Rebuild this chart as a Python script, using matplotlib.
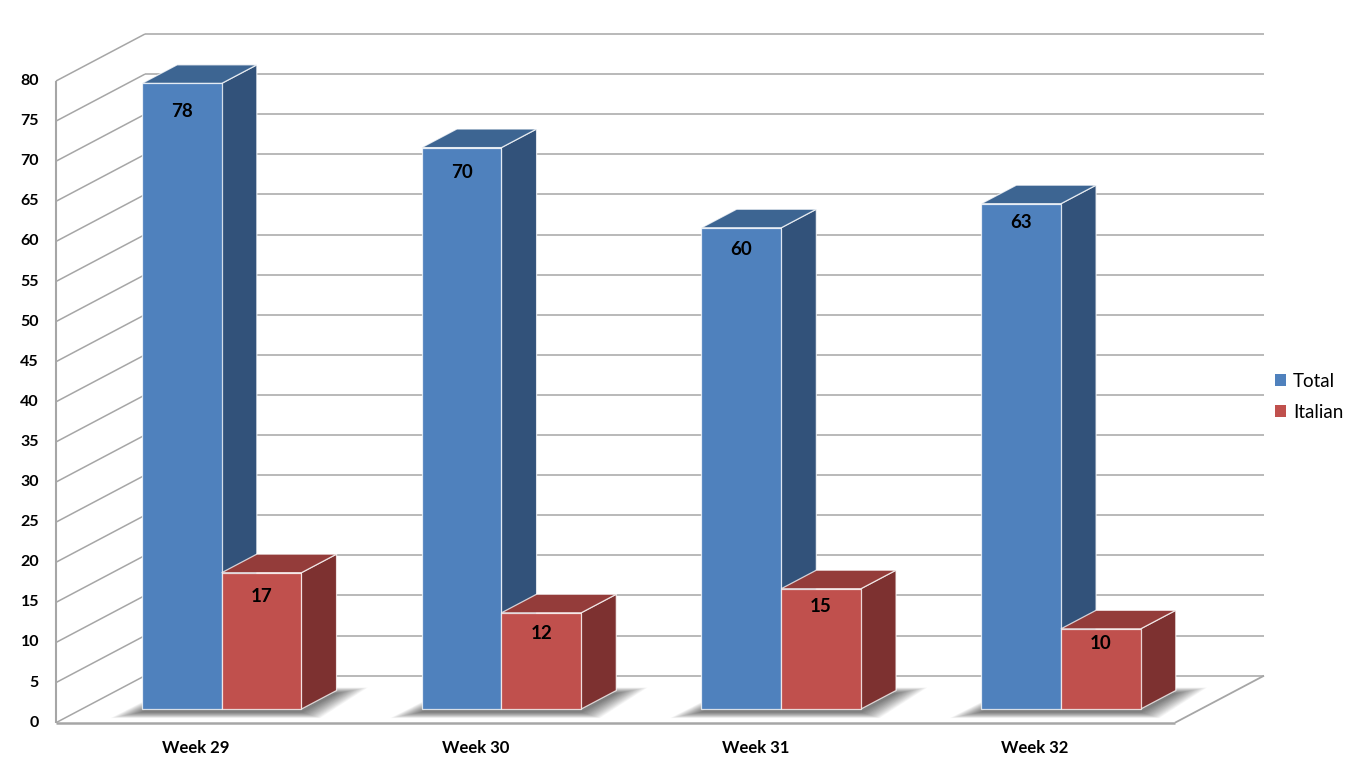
import matplotlib
matplotlib.use("Agg")
import matplotlib.pyplot as plt
from matplotlib.patches import Polygon, Patch
from matplotlib.lines import Line2D
import matplotlib.transforms as mtransforms

plt.rcParams['font.family'] = ['Lato', 'DejaVu Sans']

# ---------------- data ----------------
categories = ["Week 29", "Week 30", "Week 31", "Week 32"]
series_names = ["Total", "Italian"]
total_values = [78, 70, 60, 63]
italian_values = [17, 12, 15, 10]
y_ticks = list(range(0, 81, 5))

# ---------------- style ----------------
W_PX, H_PX, DPI = 1368, 763, 100
front_colors = {"Total": "#4F81BD", "Italian": "#C0504D"}
top_colors = {"Total": "#3D6592", "Italian": "#943C3A"}
side_colors = {"Total": "#32527A", "Italian": "#7D3130"}
grid_color = "#A6A6A6"

fig = plt.figure(figsize=(W_PX / DPI, H_PX / DPI), dpi=DPI)
ax_left, ax_right, ax_top, ax_bot = 56, 1175, 81, 722.7
ax = fig.add_axes([ax_left / W_PX, (H_PX - ax_bot) / H_PX,
                   (ax_right - ax_left) / W_PX, (ax_bot - ax_top) / H_PX])
ax.set_xlim(0, len(categories))
ax.set_ylim(0, 80)
ax.axis('off')

px_per_x = (ax_right - ax_left) / len(categories)
px_per_y = (ax_bot - ax_top) / 80.0
DEPTH_X = 89 / px_per_x     # full floor depth in x data units
DEPTH_Y = 47 / px_per_y     # full floor depth in y data units


def proj(x, y, f):
    """oblique projection: point (x, y) at depth fraction f"""
    return (x + f * DEPTH_X, y + f * DEPTH_Y)


def line(p, q, lw=1.1, color=grid_color, z=1):
    ax.add_line(Line2D([p[0], q[0]], [p[1], q[1]], lw=lw, color=color,
                       zorder=z, clip_on=False, solid_capstyle='butt'))


n = len(categories)
# back-wall gridlines and left-wall lines
for v in y_ticks:
    line(proj(0, v, 1), proj(n, v, 1))
    line(proj(0, v, 0), proj(0, v, 1))
# front axis line and floor edges
line(proj(0, 0, 0), proj(0, 80, 0), lw=1.5)
line(proj(0, 0, 0), proj(n, 0, 0), lw=1.8)
line(proj(n, 0, 0), proj(n, 0, 1), lw=1.3)

# tick labels
tick_tr = mtransforms.offset_copy(ax.transData, fig=fig, x=-17, y=0, units='dots')
for v in y_ticks:
    ax.text(0, v, str(v), transform=tick_tr, ha='right', va='center',
            fontsize=11.5, fontweight='bold', color='black', clip_on=False)

# category labels
cat_tr = mtransforms.offset_copy(ax.transData, fig=fig, x=0, y=-25, units='dots')
for i, c in enumerate(categories):
    ax.text(i + 0.5, 0, c, transform=cat_tr, ha='center', va='center',
            fontsize=12, fontweight='bold', color='black', clip_on=False)

# bars
BAR_W = 79.7 / px_per_x
F0, F1 = 0.29, 0.685
values = {"Total": total_values, "Italian": italian_values}

# soft shadows under the bar pairs
for i in range(n):
    xl = i + 0.5 - BAR_W
    xr = i + 0.5 + BAR_W
    for k in range(20):
        ex = (1 + 1.6 * k) / px_per_x
        ey = (0.3 + 0.3 * k) / px_per_y
        dy = -3 / px_per_y
        pts = [proj(xl - ex, dy - ey, F0),
               proj(xr + ex * 0.6, dy - ey, F0),
               proj(xr + ex, dy + ey, F1),
               proj(xl - ex * 0.2, dy + ey, F1)]
        ax.add_patch(Polygon(pts, closed=True, facecolor='black', edgecolor='none',
                             alpha=0.032, zorder=2, clip_on=False))

edge_kw = dict(edgecolor=(1, 1, 1, 0.75), linewidth=0.9, clip_on=False)
for i in range(n):
    for s_idx, s in enumerate(series_names):
        v = values[s][i]
        x0 = i + 0.5 - BAR_W + s_idx * BAR_W
        x1 = x0 + BAR_W
        z = 3 + s_idx
        # side face
        side = [proj(x1, 0, F0), proj(x1, 0, F1), proj(x1, v, F1), proj(x1, v, F0)]
        ax.add_patch(Polygon(side, closed=True, facecolor=side_colors[s], zorder=z, **edge_kw))
        # top face
        top = [proj(x0, v, F0), proj(x1, v, F0), proj(x1, v, F1), proj(x0, v, F1)]
        ax.add_patch(Polygon(top, closed=True, facecolor=top_colors[s], zorder=z, **edge_kw))
        # front face
        front = [proj(x0, 0, F0), proj(x1, 0, F0), proj(x1, v, F0), proj(x0, v, F0)]
        ax.add_patch(Polygon(front, closed=True, facecolor=front_colors[s], zorder=z, **edge_kw))
        # value label
        off = 28 - 9 * i / (n - 1) - 4.5 * s_idx
        lab_tr = mtransforms.offset_copy(ax.transData, fig=fig, x=0, y=-off, units='dots')
        cx, cy = proj((x0 + x1) / 2, v, F0)
        ax.text(cx, cy, str(v), transform=lab_tr, ha='center', va='center',
                fontsize=13.5, fontweight='bold', color='black', zorder=10, clip_on=False)

# legend
handles = [Patch(facecolor=front_colors[s], edgecolor='none', label=s) for s in series_names]
fig.legend(handles=handles, loc='center left',
           bbox_to_anchor=(1275 / W_PX, 1 - 397 / H_PX),
           frameon=False, fontsize=13.5, handlelength=0.6, handleheight=0.6,
           handletextpad=0.35, labelspacing=0.75, borderpad=0, borderaxespad=0)

fig.savefig("out.png", dpi=DPI, facecolor='white')
